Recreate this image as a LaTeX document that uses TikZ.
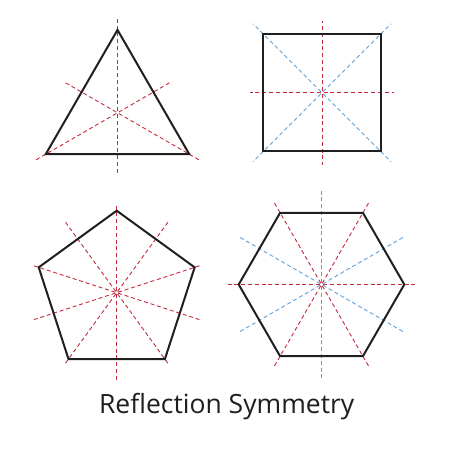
\documentclass[tikz,border=0pt]{standalone}
\usepackage{fontspec}
\setmainfont{Open Sans}
\usetikzlibrary{calc}
\definecolor{symred}{RGB}{196,42,58}
\definecolor{symblue}{RGB}{96,160,214}
\definecolor{inkgrey}{RGB}{30,30,30}
\tikzset{
  outline/.style={draw=black!88, line width=2pt, line join=miter},
  redaxis/.style={draw=symred, line width=0.9pt, dash pattern=on 4pt off 2.8pt, dash phase=5.3pt},
  blueaxis/.style={draw=symblue, line width=0.9pt, dash pattern=on 4pt off 2.8pt, dash phase=5.3pt},
}
\begin{document}
\begin{tikzpicture}[x=1pt,y=1pt]
\useasboundingbox (0,0) rectangle (450,450);

% ---------- triangle ----------
\coordinate (tc) at (117.5,337.2);
\foreach \a in {90,210,330}{
  \draw[redaxis] (tc) -- ++(\a:96);
  \draw[redaxis] (tc) -- ++(\a+180:60);
}
\draw[outline] ($(tc)+(90:82.9)$) -- ($(tc)+(210:82.9)$) -- ($(tc)+(330:82.9)$) -- cycle;

% ---------- square ----------
\coordinate (sc) at (322,357.2);
\foreach \a in {45,135,225,315}{
  \draw[blueaxis] (sc) -- ++(\a:97.5);
}
\foreach \a in {0,90,180,270}{
  \draw[redaxis] (sc) -- ++(\a:72);
}
\draw[outline] ($(sc)+(-58.7,-58.7)$) rectangle ($(sc)+(58.7,58.7)$);

% ---------- pentagon ----------
\coordinate (pc) at (116.7,157.3);
\foreach \a in {90,162,234,306,18}{
  \draw[redaxis] (pc) -- ++(\a:88);
  \draw[redaxis] (pc) -- ++(\a+180:87);
}
\draw[outline] ($(pc)+(90:82)$) -- ($(pc)+(162:82)$) -- ($(pc)+(234:82)$) -- ($(pc)+(306:82)$) -- ($(pc)+(18:82)$) -- cycle;

% ---------- hexagon ----------
\coordinate (hc) at (321.5,165.5);
\foreach \a in {30,90,150,210,270,330}{
  \draw[blueaxis] (hc) -- ++(\a:94);
}
\foreach \a in {0,60,120,180,240,300}{
  \draw[redaxis] (hc) -- ++(\a:94);
}
\draw[outline] ($(hc)+(0:82.8)$) -- ($(hc)+(60:82.8)$) -- ($(hc)+(120:82.8)$) -- ($(hc)+(180:82.8)$) -- ($(hc)+(240:82.8)$) -- ($(hc)+(300:82.8)$) -- cycle;

% ---------- title ----------
\node[anchor=base, inner sep=0pt, text=inkgrey, font=\fontsize{26.5}{32}\selectfont] (title) at (226.7,36.7) {Reflection Symmetry};
\end{tikzpicture}
\end{document}
